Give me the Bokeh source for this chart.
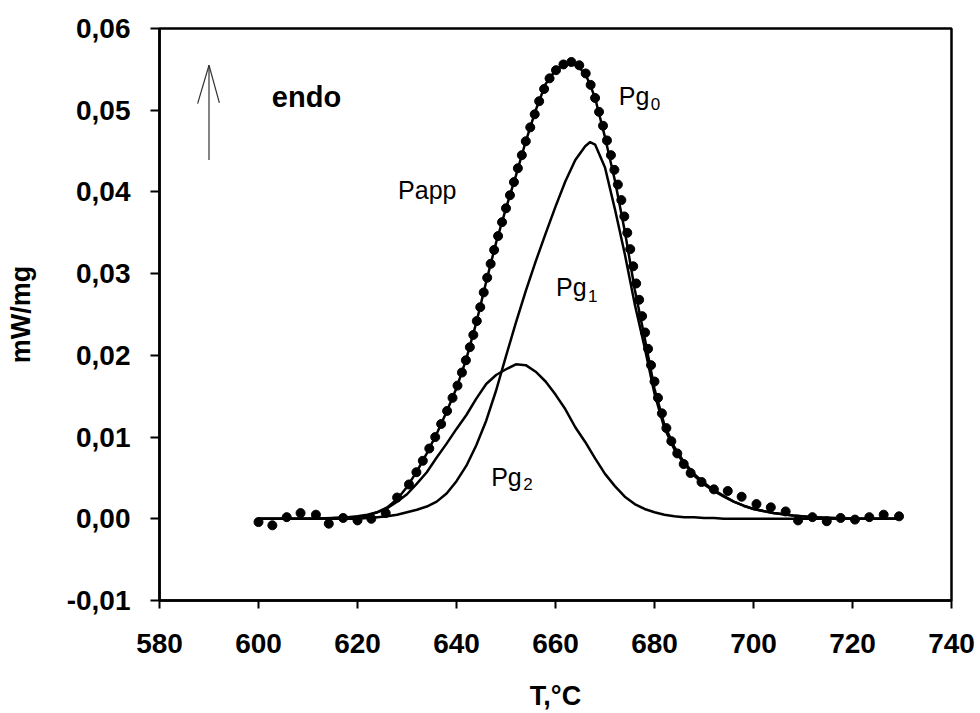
from bokeh.plotting import figure
from bokeh.models import Range1d, FixedTicker, CustomJSTickFormatter, ColumnDataSource
from bokeh.core.properties import value
from bokeh.embed import file_html
from bokeh.resources import INLINE

# ---------------- data ----------------
temperature = [600, 605, 610, 615, 618, 620, 622, 624, 626, 628, 630, 632, 634, 636, 638,
               640, 642, 644, 646, 648, 650, 652, 654, 656, 658, 660, 662, 664, 666, 667,
               668, 670, 672, 674, 676, 678, 680, 682, 684, 686, 688, 690, 692, 694, 696,
               698, 700, 704, 708, 712, 716, 720, 725, 730]

pg0 = [0.0000, 0.0000, 0.0000, 0.0001, 0.0002, 0.0003, 0.0005, 0.0008, 0.0014, 0.0024,
       0.0039, 0.0058, 0.0080, 0.0104, 0.0131, 0.0160, 0.0196, 0.0240, 0.0290, 0.0338,
       0.0380, 0.0420, 0.0462, 0.0500, 0.0532, 0.0549, 0.0557, 0.0556, 0.0545, 0.0531,
       0.0515, 0.0467, 0.0414, 0.0352, 0.0281, 0.0222, 0.0159, 0.0115, 0.0088, 0.0069,
       0.0055, 0.0044, 0.0035, 0.0028, 0.0021, 0.0016, 0.0012, 0.0007, 0.0004, 0.0002,
       0.0001, 0.0000, 0.0000, 0.0000]

pg1 = [0.0000, 0.0000, 0.0000, 0.0000, 0.0000, 0.0000, 0.0001, 0.0002, 0.0003, 0.0005,
       0.0008, 0.0011, 0.0015, 0.0021, 0.0031, 0.0046, 0.0065, 0.0090, 0.0120, 0.0157,
       0.0199, 0.0240, 0.0279, 0.0315, 0.0349, 0.0382, 0.0413, 0.0439, 0.0456, 0.0461,
       0.0458, 0.0430, 0.0379, 0.0324, 0.0263, 0.0210, 0.0153, 0.0111, 0.0085, 0.0067,
       0.0053, 0.0042, 0.0034, 0.0027, 0.0021, 0.0016, 0.0012, 0.0007, 0.0004, 0.0002,
       0.0001, 0.0000, 0.0000, 0.0000]

pg2 = [0.0000, 0.0000, 0.0000, 0.0001, 0.0001, 0.0002, 0.0004, 0.0008, 0.0013, 0.0021,
       0.0030, 0.0043, 0.0057, 0.0075, 0.0092, 0.0110, 0.0127, 0.0147, 0.0165, 0.0176,
       0.0183, 0.0189, 0.0188, 0.0180, 0.0168, 0.0152, 0.0134, 0.0112, 0.0094, 0.0084,
       0.0074, 0.0055, 0.0040, 0.0027, 0.0018, 0.0012, 0.0008, 0.0005, 0.0003, 0.0002,
       0.0002, 0.0001, 0.0001, 0.0000, 0.0000, 0.0000, 0.0000, 0.0000, 0.0000, 0.0000,
       0.0000, 0.0000, 0.0000, 0.0000]

# measured points (Papp)
papp_t = [600.0, 602.8, 605.7, 608.5, 611.6, 614.2, 617.1, 620.0, 622.8, 625.7, 628.0, 630.4,
          631.9, 633.2, 634.5, 635.7, 636.9, 638.1, 639.2, 640.2, 641.1, 641.9, 642.7, 643.4,
          644.1, 644.8, 645.5, 646.2, 646.9, 647.6, 648.4, 649.2, 650.0, 650.8, 651.6, 652.4,
          653.2, 654.0, 654.9, 655.8, 656.7, 657.7, 658.8, 660.1, 661.6, 663.2, 664.8, 666.1,
          667.1, 668.0, 668.8, 669.6, 670.4, 671.2, 671.9, 672.6, 673.3, 673.9, 674.5, 675.1,
          675.7, 676.3, 676.9, 677.5, 678.1, 678.7, 679.3, 680.0, 680.7, 681.5, 682.4, 683.4,
          684.6, 685.9, 687.3, 689.5, 692.0, 694.8, 697.6, 700.6, 703.5, 706.5, 709.0, 711.9,
          714.8, 717.6, 720.5, 723.4, 726.3, 729.4]
papp_v = [-0.0004, -0.0008, 0.0002, 0.0007, 0.0005, -0.0006, 0.0001, -0.0002, 0.0000, 0.0007,
          0.0026, 0.0042, 0.0057, 0.0071, 0.0086, 0.0100, 0.0116, 0.0132, 0.0148, 0.0163,
          0.0179, 0.0194, 0.0210, 0.0225, 0.0242, 0.0259, 0.0277, 0.0295, 0.0312, 0.0329,
          0.0346, 0.0363, 0.0380, 0.0396, 0.0412, 0.0429, 0.0445, 0.0462, 0.0479, 0.0495,
          0.0511, 0.0526, 0.0539, 0.0549, 0.0556, 0.0559, 0.0555, 0.0545, 0.0531, 0.0515,
          0.0498, 0.0481, 0.0463, 0.0445, 0.0427, 0.0409, 0.0390, 0.0370, 0.0350, 0.0330,
          0.0309, 0.0288, 0.0268, 0.0248, 0.0228, 0.0208, 0.0188, 0.0168, 0.0148, 0.0129,
          0.0111, 0.0095, 0.0080, 0.0067, 0.0056, 0.0045, 0.0036, 0.0034, 0.0027, 0.0018,
          0.0014, 0.0009, -0.0002, 0.0002, -0.0003, 0.0001, -0.0001, 0.0002, 0.0005, 0.0003]

x_ticks = [580, 600, 620, 640, 660, 680, 700, 720, 740]
y_ticks = [-0.01, 0.0, 0.01, 0.02, 0.03, 0.04, 0.05, 0.06]

# annotation texts
label_text = ["endo", "Papp", "Pg", "Pg", "Pg"]
label_x = [602.7, 628.2, 672.8, 660.1, 647.0]
label_y = [0.0516, 0.0402, 0.0518, 0.0284, 0.0051]
sub_text = ["0", "1", "2"]
sub_x = [672.8, 660.1, 647.0]
sub_y = [0.0508, 0.0273, 0.0042]

# "endo" arrow
arrow_x0 = [590.0, 587.7, 592.1]
arrow_y0 = [0.0439, 0.0508, 0.0509]
arrow_x1 = [590.0, 590.0, 590.0]
arrow_y1 = [0.0555, 0.0555, 0.0555]

# ---------------- figure ----------------
FONT = "Liberation Sans"

p = figure(width=980, height=713, output_backend="svg", toolbar_location=None,
           x_range=Range1d(580, 740), y_range=Range1d(-0.01, 0.06),
           min_border_left=159, min_border_right=29, min_border_top=28, min_border_bottom=112,
           background_fill_color="white", border_fill_color="white")

p.xgrid.visible = False
p.ygrid.visible = False
p.outline_line_color = "black"
p.outline_line_width = 2.5

for ax in (p.xaxis[0], p.yaxis[0]):
    ax.axis_line_width = 2.5
    ax.axis_line_color = "black"
    ax.major_tick_line_width = 2
    ax.major_tick_line_color = "black"
    ax.major_tick_in = 0
    ax.minor_tick_line_color = None
    ax.major_label_text_font = FONT
    ax.major_label_text_font_style = "bold"
    ax.major_label_text_font_size = "28px"
    ax.major_label_text_color = "black"
    ax.axis_label_text_font = FONT
    ax.axis_label_text_font_style = "bold"
    ax.axis_label_text_font_size = "27px"
    ax.axis_label_text_color = "black"

p.xaxis.ticker = FixedTicker(ticks=x_ticks)
p.yaxis.ticker = FixedTicker(ticks=y_ticks)
p.xaxis.major_tick_out = 8
p.yaxis.major_tick_out = 9
p.xaxis.major_label_standoff = 25
p.yaxis.major_label_standoff = 20
p.yaxis.formatter = CustomJSTickFormatter(code="return tick.toFixed(2).replace('.', ',');")
p.xaxis.axis_label = "T,°C"
p.yaxis.axis_label = "mW/mg"
p.xaxis.axis_label_standoff = 25
p.yaxis.axis_label_standoff = 28

src = ColumnDataSource(dict(t=temperature, pg0=pg0, pg1=pg1, pg2=pg2))
p.line("t", "pg2", source=src, line_color="black", line_width=2.5)
p.line("t", "pg1", source=src, line_color="black", line_width=2.5)
p.line("t", "pg0", source=src, line_color="black", line_width=2.5)

p.scatter(papp_t, papp_v, size=9, marker="circle", fill_color="black", line_color="black")

p.segment(arrow_x0, arrow_y0, arrow_x1, arrow_y1, line_color="#333333", line_width=1.2)

# labels
p.text([label_x[0]], [label_y[0]], text=[label_text[0]], text_font=value(FONT),
       text_font_style="bold", text_font_size=value("29px"), text_color="black",
       text_align="left", text_baseline="alphabetic")
p.text(label_x[1:], label_y[1:], text=label_text[1:], text_font=value(FONT),
       text_font_size=value("25px"), text_color="black",
       text_align="left", text_baseline="alphabetic")
p.text(sub_x, sub_y, text=sub_text, text_font=value(FONT), text_font_size=value("17px"),
       text_color="black", text_align="left", text_baseline="alphabetic", x_offset=32)

open("out.html", "w").write(file_html(p, INLINE))
